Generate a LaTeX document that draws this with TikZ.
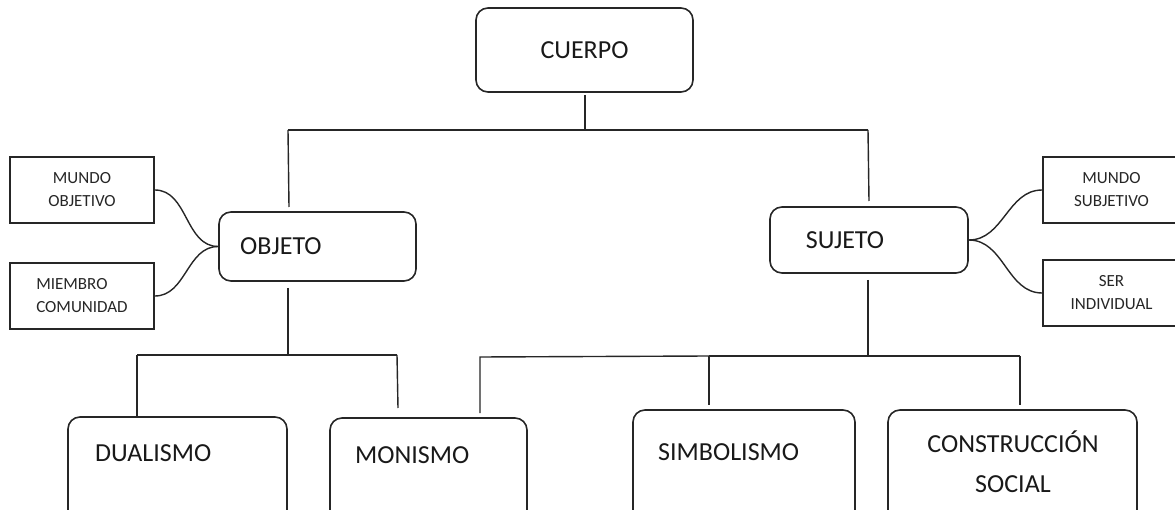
\documentclass[tikz,border=0pt]{standalone}
\usepackage{fontspec}
\setmainfont{Carlito}
\begin{document}
\begin{tikzpicture}[x=1pt,y=-1pt,
 rbox/.style={draw=black!85,line width=1.6pt,rounded corners=12pt,inner sep=0pt,text=black!90,font=\fontsize{26}{32}\selectfont},
 sbox/.style={draw=black!85,line width=1.6pt,inner sep=0pt,text=black!85,font=\fontsize{17}{23}\selectfont},
 big/.style={font=\fontsize{26}{40}\selectfont,inner sep=0pt,text=black!90},
 ln/.style={draw=black!85,line width=1.4pt}]
\useasboundingbox (0,0) rectangle (1175,510);
\clip (0,0) rectangle (1175,510);
% main boxes
\node[rbox,minimum width=217pt,minimum height=84pt] (cu) at (584.5,50) {CUERPO};
\node[rbox,minimum width=197pt,minimum height=69pt] (ob) at (317.5,246.5) {};
\node[big,anchor=west] (obt) at (240,246) {OBJETO};
\node[rbox,minimum width=198pt,minimum height=66pt] (su) at (869,240) {};
\node[big] (sut) at (845,240) {SUJETO};
\node[rbox,minimum width=219pt,minimum height=113pt] (du) at (177.5,473.5) {};
\node[big,anchor=west] (dut) at (95,453) {DUALISMO};
\node[rbox,minimum width=197pt,minimum height=112pt] (mn) at (428.5,474) {};
\node[big,anchor=west] (mnt) at (355,455) {MONISMO};
\node[rbox,minimum width=222pt,minimum height=120pt] (si) at (744,470) {};
\node[big,anchor=west] (sit) at (658,452) {SIMBOLISMO};
\node[rbox,minimum width=249pt,minimum height=120pt] (cs) at (1012.5,470) {};
\node[big,align=center] (cst) at (1013,462) {CONSTRUCCIÓN\\SOCIAL};
% small boxes
\node[sbox,minimum width=144pt,minimum height=66pt,align=center] (mo) at (82,190) {MUNDO\\OBJETIVO};
\node[sbox,minimum width=144pt,minimum height=66pt,align=left] (mc) at (82,296) {MIEMBRO\\COMUNIDAD};
\node[sbox,minimum width=137pt,minimum height=66pt,align=center] (ms) at (1111.5,190) {MUNDO\\SUBJETIVO};
\node[sbox,minimum width=137pt,minimum height=66pt,align=center] (sv) at (1111.5,293) {SER\\INDIVIDUAL};
% junction coordinates
\coordinate (cub) at (585,95);
\coordinate (jt) at (585,130);
\coordinate (jl) at (288,130);
\coordinate (jr) at (868,130);
\coordinate (obtop) at (289,207);
\coordinate (sutop) at (869,201);
\coordinate (obbot) at (288,288);
\coordinate (jo) at (288,355);
\coordinate (jd) at (137,355);
\coordinate (jm) at (397,355);
\coordinate (dtop) at (137,417);
\coordinate (mtop) at (398,408);
\coordinate (subot) at (868,280);
\coordinate (js) at (868,356);
\coordinate (jsl) at (709,356);
\coordinate (jsr) at (1020,356);
\coordinate (stop) at (709,405);
\coordinate (ctop) at (1020,405);
\coordinate (jmo) at (480,357);
\coordinate (motop) at (480,413);
% connectors
\draw[ln] (cub) -- (jt);
\draw[ln] (jl) -- (jr);
\draw[ln] (jl) -- (obtop);
\draw[ln] (jr) -- (sutop);
\draw[ln] (obbot) -- (jo);
\draw[ln] (jd) -- (jm);
\draw[ln] (jd) -- (dtop);
\draw[ln] (jm) -- (mtop);
\draw[ln] (subot) -- (js);
\draw[ln] (jsl) -- (jsr);
\draw[ln] (jsl) -- (stop);
\draw[ln] (jsr) -- (ctop);
\draw[ln] (motop) -- (jmo) -- (jsl);
% curved links
\draw[ln] (mo.east) to[out=0,in=180] (ob.west);
\draw[ln] (mc.east) to[out=0,in=180] (ob.west);
\draw[ln] (su.east) to[out=0,in=180] (ms.west);
\draw[ln] (su.east) to[out=0,in=180] (sv.west);
\end{tikzpicture}
\end{document}
